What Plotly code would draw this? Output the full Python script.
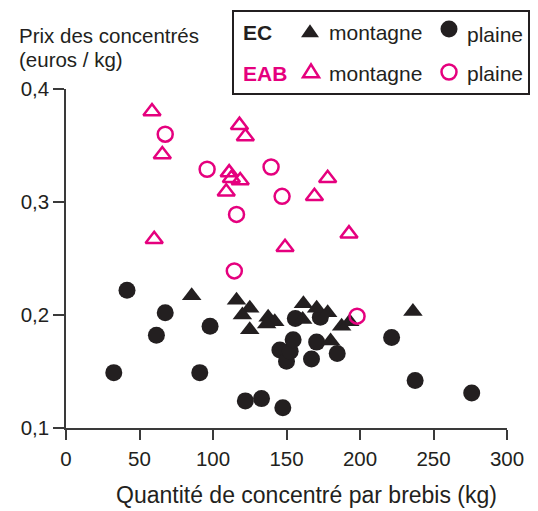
import plotly.graph_objects as go

# ---------------- data ----------------
ec_mont_x = [85.5, 116, 125, 120, 125, 137.5, 142, 136.5, 161.5, 170.5, 178, 161, 180, 187.5, 193, 236]
ec_mont_y = [0.217, 0.213, 0.206, 0.200, 0.187, 0.198, 0.194, 0.192, 0.210, 0.206, 0.202, 0.196, 0.177, 0.190, 0.194, 0.203]

ec_plaine_x = [32.5, 41.5, 61.5, 67.5, 91, 98, 122, 133, 147.5, 145.5, 150, 152.5, 154.5, 156, 167, 170.5, 173, 184.5, 221.5, 237.5, 276]
ec_plaine_y = [0.149, 0.222, 0.182, 0.202, 0.149, 0.190, 0.124, 0.126, 0.118, 0.169, 0.159, 0.168, 0.178, 0.197, 0.161, 0.176, 0.198, 0.166, 0.180, 0.142, 0.131]

eab_mont_x = [58.5, 60, 65.5, 109, 111, 112.5, 118.5, 118, 122, 149, 169, 178, 192.5]
eab_mont_y = [0.380, 0.267, 0.342, 0.309, 0.326, 0.321, 0.319, 0.368, 0.358, 0.260, 0.305, 0.321, 0.272]

eab_plaine_x = [67.5, 96, 114.5, 116, 139.5, 147, 198]
eab_plaine_y = [0.360, 0.329, 0.239, 0.289, 0.331, 0.305, 0.199]

x_ticks = [0, 50, 100, 150, 200, 250, 300]
y_ticks = [0.1, 0.2, 0.3, 0.4]
y_tick_labels = ["0,1", "0,2", "0,3", "0,4"]

x_title = "Quantité de concentré par brebis (kg)"
y_title_1 = "Prix des concentrés"
y_title_2 = "(euros / kg)"

# ---------------- style ----------------
BLACK = "#231f20"
MAGENTA = "#e5007e"
AXIS = "#3a3a3a"
FONT = "Liberation Sans, Arial, sans-serif"

OFF = 8  # page body margin
W, H = 538 - OFF, 511 - OFF
# plot area in page pixels: x 66..507, y 89..428
L, R, T, B = 66 - OFF, 538 - 507, 89 - OFF, 511 - 428
PW = W - L - R
PH = H - T - B


def px(x):  # page pixel -> paper
    return (x - OFF - L) / PW


def py(y):
    return (H - B - (y - OFF)) / PH


fig = go.Figure()

fig.add_trace(go.Scatter(x=ec_plaine_x, y=ec_plaine_y, mode="markers",
                         marker=dict(symbol="circle", size=17, color=BLACK, line=dict(width=0)),
                         showlegend=False))
fig.add_trace(go.Scatter(x=ec_mont_x, y=ec_mont_y, mode="markers",
                         marker=dict(symbol="triangle-up", size=17, color=BLACK, line=dict(width=0)),
                         showlegend=False))
fig.add_trace(go.Scatter(x=eab_mont_x, y=eab_mont_y, mode="markers",
                         marker=dict(symbol="triangle-up-open", size=15, color=MAGENTA, line=dict(width=2.5, color=MAGENTA)),
                         showlegend=False))
fig.add_trace(go.Scatter(x=eab_plaine_x, y=eab_plaine_y, mode="markers",
                         marker=dict(symbol="circle-open", size=15, color=MAGENTA, line=dict(width=2.5, color=MAGENTA)),
                         showlegend=False))

annotations = []
shapes = []

# axis titles
annotations.append(dict(text=y_title_1, x=px(17), y=py(36), xref="paper", yref="paper",
                        xanchor="left", yanchor="middle", showarrow=False,
                        font=dict(family=FONT, size=20.5, color=BLACK)))
annotations.append(dict(text=y_title_2, x=px(17), y=py(59), xref="paper", yref="paper",
                        xanchor="left", yanchor="middle", showarrow=False,
                        font=dict(family=FONT, size=20.5, color=BLACK)))
annotations.append(dict(text=x_title, x=px(306), y=py(495), xref="paper", yref="paper",
                        xanchor="center", yanchor="middle", showarrow=False,
                        font=dict(family=FONT, size=23, color=BLACK)))

# legend box
shapes.append(dict(type="rect", xref="paper", yref="paper",
                   x0=px(233), x1=px(529), y0=py(94), y1=py(11),
                   line=dict(color=BLACK, width=2), fillcolor="rgba(0,0,0,0)"))


def tri(cx, cy, w, h):
    pts = [(cx - w / 2, cy + h / 3), (cx + w / 2, cy + h / 3), (cx, cy - 2 * h / 3)]
    return "M " + " L ".join(f"{px(a):.5f},{py(b):.5f}" for a, b in pts) + " Z"


def circ(cx, cy, d, fill, line_w, color):
    return dict(type="circle", xref="paper", yref="paper",
                x0=px(cx - d / 2), x1=px(cx + d / 2), y0=py(cy + d / 2), y1=py(cy - d / 2),
                fillcolor=fill, line=dict(color=color, width=line_w))


shapes.append(dict(type="path", xref="paper", yref="paper", path=tri(310, 33, 18, 13),
                   fillcolor=BLACK, line=dict(color=BLACK, width=0)))
shapes.append(circ(449, 29, 17, BLACK, 0, BLACK))
shapes.append(dict(type="path", xref="paper", yref="paper", path=tri(311, 73, 16, 13),
                   fillcolor="rgba(0,0,0,0)", line=dict(color=MAGENTA, width=2.5)))
shapes.append(circ(449, 72, 15, "rgba(0,0,0,0)", 2.5, MAGENTA))

leg_rows = [("EC", BLACK, 33, 35), ("EAB", MAGENTA, 73, 73)]
for label, col, yc, yp in leg_rows:
    annotations.append(dict(text=f"<b>{label}</b>", x=px(241), y=py(yc), xref="paper", yref="paper",
                            xanchor="left", yanchor="middle", showarrow=False,
                            font=dict(family=FONT, size=21, color=col)))
    annotations.append(dict(text="montagne", x=px(327), y=py(yc), xref="paper", yref="paper",
                            xanchor="left", yanchor="middle", showarrow=False,
                            font=dict(family=FONT, size=21, color=BLACK)))
    annotations.append(dict(text="plaine", x=px(465), y=py(yp), xref="paper", yref="paper",
                            xanchor="left", yanchor="middle", showarrow=False,
                            font=dict(family=FONT, size=21, color=BLACK)))

fig.update_layout(
    width=W, height=H,
    margin=dict(l=L, r=R, t=T, b=B, pad=0),
    paper_bgcolor="white", plot_bgcolor="white",
    font=dict(family=FONT, size=20, color=BLACK),
    showlegend=False,
    annotations=annotations,
    shapes=shapes,
    xaxis=dict(range=[0, 300], tickvals=x_ticks, ticks="outside", ticklen=10, tickwidth=1.5,
               tickcolor=AXIS, showline=True, linecolor=AXIS, linewidth=1.5, showgrid=False,
               zeroline=False, ticklabelstandoff=2,
               tickfont=dict(family=FONT, size=20.5, color=BLACK)),
    yaxis=dict(range=[0.1, 0.4], tickvals=y_ticks, ticktext=y_tick_labels, ticks="outside",
               ticklen=11, tickwidth=1.5, tickcolor=AXIS, showline=True, linecolor=AXIS,
               linewidth=1.5, showgrid=False, zeroline=False,
               tickfont=dict(family=FONT, size=20.5, color=BLACK)),
)

fig.write_html("out.html")
